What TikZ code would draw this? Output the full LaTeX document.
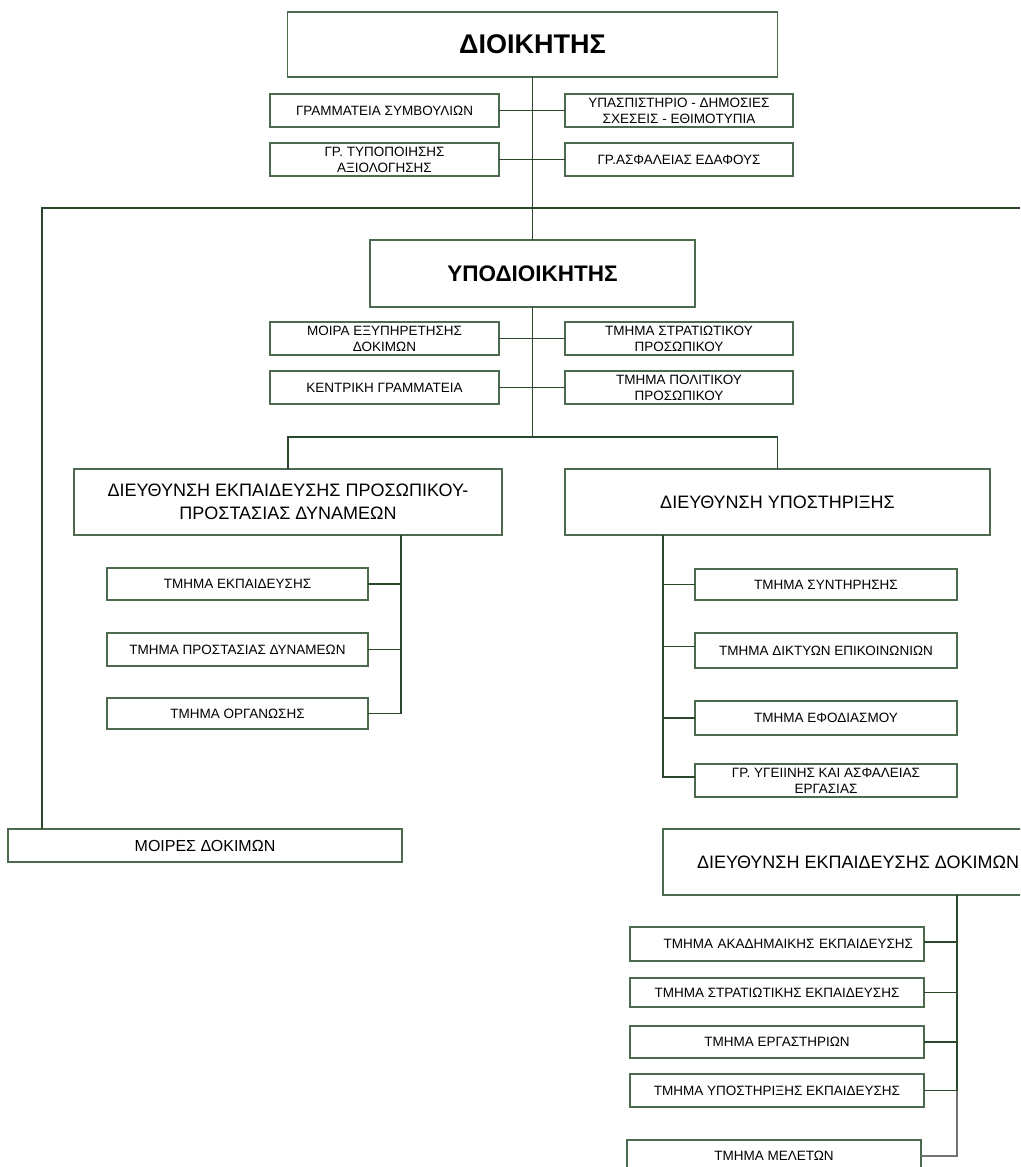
\documentclass[tikz,border=0pt]{standalone}
\usepackage{fontspec}
\setmainfont{Liberation Sans}
\definecolor{linec}{HTML}{2B472B}
\definecolor{boxc}{HTML}{4E6A4E}
\begin{document}
\begin{tikzpicture}[x=1pt,y=-1pt,
  box/.style={draw=boxc, line width=1.1pt, inner sep=0pt, outer sep=0pt, align=center,
    font=\fontsize{13.5}{16}\selectfont},
  dirbox/.style={box, font=\fontsize{18}{23}\selectfont},
  headbox/.style={box, font=\fontsize{27}{30}\selectfont\bfseries},
  conn/.style={draw=linec, line width=1.8pt}]
\useasboundingbox (0,0) rectangle (1020,1167);
\clip (0,0) rectangle (1020,1167);
% top level
\node[headbox, minimum width=490pt, minimum height=65pt] (dioik) at (532.5,44.5) {ΔΙΟΙΚΗΤΗΣ};
\node[box, minimum width=229pt, minimum height=33pt] (gs) at (384.5,110.5) {ΓΡΑΜΜΑΤΕΙΑ ΣΥΜΒΟΥΛΙΩΝ};
\node[box, minimum width=228pt, minimum height=33pt] (yp) at (679,110.5) {ΥΠΑΣΠΙΣΤΗΡΙΟ - ΔΗΜΟΣΙΕΣ\\ΣΧΕΣΕΙΣ - ΕΘΙΜΟΤΥΠΙΑ};
\node[box, minimum width=229pt, minimum height=33pt] (gt) at (384.5,159.5) {ΓΡ. ΤΥΠΟΠΟΙΗΣΗΣ\\ΑΞΙΟΛΟΓΗΣΗΣ};
\node[box, minimum width=228pt, minimum height=33pt] (ga) at (679,159.5) {ΓΡ.ΑΣΦΑΛΕΙΑΣ ΕΔΑΦΟΥΣ};
% second level
\node[headbox, font=\fontsize{22.5}{26}\selectfont\bfseries, minimum width=325pt, minimum height=67pt] (ypod) at (532.5,273.5) {ΥΠΟΔΙΟΙΚΗΤΗΣ};
\node[box, minimum width=229pt, minimum height=33pt] (moira) at (384.5,338.5) {ΜΟΙΡΑ ΕΞΥΠΗΡΕΤΗΣΗΣ\\ΔΟΚΙΜΩΝ};
\node[box, minimum width=228pt, minimum height=33pt] (tstr) at (679,338.5) {ΤΜΗΜΑ ΣΤΡΑΤΙΩΤΙΚΟΥ\\ΠΡΟΣΩΠΙΚΟΥ};
\node[box, minimum width=229pt, minimum height=33pt] (kent) at (384.5,387.5) {ΚΕΝΤΡΙΚΗ ΓΡΑΜΜΑΤΕΙΑ};
\node[box, minimum width=228pt, minimum height=33pt] (tpol) at (679,387.5) {ΤΜΗΜΑ ΠΟΛΙΤΙΚΟΥ\\ΠΡΟΣΩΠΙΚΟΥ};
% directorates
\node[dirbox, minimum width=428pt, minimum height=66pt] (dep) at (288,502) {ΔΙΕΥΘΥΝΣΗ ΕΚΠΑΙΔΕΥΣΗΣ ΠΡΟΣΩΠΙΚΟΥ-\\ΠΡΟΣΤΑΣΙΑΣ ΔΥΝΑΜΕΩΝ};
\node[dirbox, minimum width=425pt, minimum height=66pt] (dyp) at (777.5,502) {ΔΙΕΥΘΥΝΣΗ ΥΠΟΣΤΗΡΙΞΗΣ};
\node[box, minimum width=261pt, minimum height=32pt] (tek) at (237.5,584) {ΤΜΗΜΑ ΕΚΠΑΙΔΕΥΣΗΣ};
\node[box, minimum width=261pt, minimum height=33pt] (tpr) at (237.5,649.5) {ΤΜΗΜΑ ΠΡΟΣΤΑΣΙΑΣ ΔΥΝΑΜΕΩΝ};
\node[box, minimum width=261pt, minimum height=31pt] (tor) at (237.5,713.5) {ΤΜΗΜΑ ΟΡΓΑΝΩΣΗΣ};
\node[box, minimum width=262pt, minimum height=31pt] (tsyn) at (826,584.5) {ΤΜΗΜΑ ΣΥΝΤΗΡΗΣΗΣ};
\node[box, minimum width=262pt, minimum height=35pt] (tdik) at (826,650.5) {ΤΜΗΜΑ ΔΙΚΤΥΩΝ ΕΠΙΚΟΙΝΩΝΙΩΝ};
\node[box, minimum width=262pt, minimum height=34pt] (tefo) at (826,718) {ΤΜΗΜΑ ΕΦΟΔΙΑΣΜΟΥ};
\node[box, minimum width=262pt, minimum height=33pt] (gyg) at (826,780.5) {ΓΡ. ΥΓΕΙΙΝΗΣ ΚΑΙ ΑΣΦΑΛΕΙΑΣ\\ΕΡΓΑΣΙΑΣ};
\node[box, font=\fontsize{16}{19}\selectfont, minimum width=394pt, minimum height=33pt] (moires) at (205,845.5) {ΜΟΙΡΕΣ ΔΟΚΙΜΩΝ};
\node[dirbox, minimum width=390pt, minimum height=66pt] (ded) at (858,862) {ΔΙΕΥΘΥΝΣΗ ΕΚΠΑΙΔΕΥΣΗΣ ΔΟΚΙΜΩΝ};
\node[box, minimum width=294pt, minimum height=34pt, text width=272pt, align=right, inner xsep=11pt] (tak) at (777,944) {ΤΜΗΜΑ ΑΚΑΔΗΜΑΙΚΗΣ ΕΚΠΑΙΔΕΥΣΗΣ};
\node[box, minimum width=294pt, minimum height=29pt] (tst) at (777,992.5) {ΤΜΗΜΑ ΣΤΡΑΤΙΩΤΙΚΗΣ ΕΚΠΑΙΔΕΥΣΗΣ};
\node[box, minimum width=294pt, minimum height=32pt] (terg) at (777,1042) {ΤΜΗΜΑ ΕΡΓΑΣΤΗΡΙΩΝ};
\node[box, minimum width=294pt, minimum height=33pt] (tyek) at (777,1090.5) {ΤΜΗΜΑ ΥΠΟΣΤΗΡΙΞΗΣ ΕΚΠΑΙΔΕΥΣΗΣ};
\node[box, minimum width=294pt, minimum height=32pt] (tmel) at (774,1156) {ΤΜΗΜΑ ΜΕΛΕΤΩΝ};
% helper coordinates
\coordinate (hl) at (42,208);
\coordinate (hr) at (1020,208);
\coordinate (y437) at (0,437);
\coordinate (lt) at (401,0);
\coordinate (rt) at (663,0);
\coordinate (dt) at (957,0);
% connectors
\draw[conn] (dioik.south) -- (ypod.north);
\draw[conn] (gs.east) -- (yp.west);
\draw[conn] (gt.east) -- (ga.west);
\draw[conn] (moira.east) -- (tstr.west);
\draw[conn] (kent.east) -- (tpol.west);
\draw[conn] (moires.north -| hl) -- (hl) -- (hr);
\draw[conn] (ypod.south) -- (ypod.south |- y437);
\draw[conn] (dep.north) -- (dep.north |- y437) -- (dyp.north |- y437) -- (dyp.north);
\draw[conn] (dep.south -| lt) -- (tor.east -| lt) -- (tor.east);
\draw[conn] (tek.east) -- (tek.east -| lt);
\draw[conn] (tpr.east) -- (tpr.east -| lt);
\draw[conn] (dyp.south -| rt) -- ([yshift=3.5pt]gyg.west -| rt) -- ([yshift=3.5pt]gyg.west);
\draw[conn] (tsyn.west) -- (tsyn.west -| rt);
\draw[conn] ([yshift=4pt]tdik.west) -- ([yshift=4pt]tdik.west -| rt);
\draw[conn] (tefo.west) -- (tefo.west -| rt);
\draw[conn] (ded.south -| dt) -- (tyek.east -| dt);
\draw[conn, draw=gray!80!linec, line width=1.3pt] (tyek.east -| dt) -- (tmel.east -| dt) -- (tmel.east);
\draw[conn] ([yshift=2pt]tak.east) -- ([yshift=2pt]tak.east -| dt);
\draw[conn] (tst.east) -- (tst.east -| dt);
\draw[conn] (terg.east) -- (terg.east -| dt);
\draw[conn] (tyek.east) -- (tyek.east -| dt);
\end{tikzpicture}
\end{document}
